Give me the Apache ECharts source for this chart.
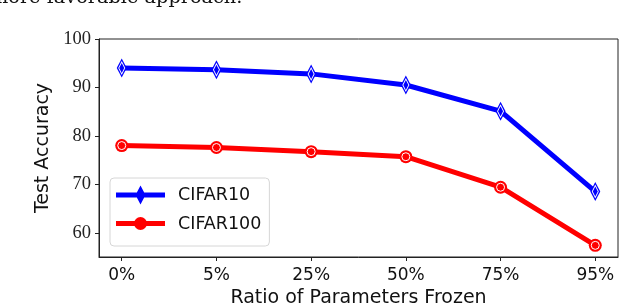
<!DOCTYPE html>
<html>
<head>
<meta charset="utf-8">
<script src="https://cdn.jsdelivr.net/npm/echarts@6/dist/echarts.min.js"></script>
<style>
html,body{margin:0;padding:0;background:#fff;}
#c{width:620px;height:306px;}
</style>
</head>
<body>
<div id="c"></div>
<script>
var categories = ['0%', '5%', '25%', '50%', '75%', '95%'];
var cifar10 = [94.0, 93.65, 92.8, 90.5, 85.1, 68.5];
var cifar100 = [78.0, 77.6, 76.75, 75.7, 69.4, 57.4];
var yTicks = [60, 70, 80, 90, 100];
var xTickPositions = [0, 1, 2, 3, 4, 5];

function pairs(arr) { return arr.map(function (v, i) { return [i, v]; }); }

var chart = echarts.init(document.getElementById('c'), null, {renderer: 'canvas'});
var axisColor = '#222';
var diamondIcon = 'path://M0,7 H49 V12 H0 Z M24.5,0 L29.5,9.5 L24.5,19 L19.5,9.5 Z';
var circleIcon = 'path://M0,6.5 H49 V11.5 H0 Z M31,9 A6.5,6.5 0 1 1 18,9 A6.5,6.5 0 1 1 31,9 Z M0,0 Z M49,19 Z';
chart.setOption({
  animation: false,
  graphic: [{
    type: 'text', left: -10, top: -12,
    style: {text: 'more favorable approach.', font: '19.3px "DejaVu Serif"', fill: '#111'}
  }],
  grid: {left: 99, right: 2, top: 39, bottom: 49, show: true, borderColor: axisColor, borderWidth: 1,
    outerBoundsMode: 'none', containLabel: false},
  legend: {
    data: [{name: 'CIFAR10', icon: diamondIcon}, {name: 'CIFAR100', icon: circleIcon}],
    orient: 'vertical', left: 110, top: 178,
    padding: [7, 8, 12, 6],
    itemWidth: 49, itemHeight: 19, itemGap: 9,
    backgroundColor: '#fff', borderColor: '#d6d6d6', borderWidth: 1, borderRadius: 4,
    textStyle: {fontFamily: 'DejaVu Sans', fontSize: 17.5, color: '#111', lineHeight: 20, padding: [0, 0, 0, 8]}
  },
  xAxis: {
    type: 'value', min: -0.24, max: 5.24,
    splitLine: {show: false},
    axisLine: {show: true, onZero: false, lineStyle: {color: axisColor, width: 1}},
    axisTick: {show: true, customValues: xTickPositions, length: 4, lineStyle: {color: axisColor}},
    axisLabel: {customValues: xTickPositions, margin: 10, fontFamily: 'DejaVu Sans', fontSize: 17, color: '#111',
      formatter: function (v) { return categories[Math.round(v)]; }},
    name: 'Ratio of Parameters Frozen', nameLocation: 'middle', nameGap: 31,
    nameTextStyle: {fontFamily: 'DejaVu Sans', fontSize: 19, color: '#111', verticalAlign: 'top'}
  },
  yAxis: {
    type: 'value', min: 55, max: 100,
    splitLine: {show: false},
    axisLine: {show: true, onZero: false, lineStyle: {color: axisColor, width: 1}},
    axisTick: {show: true, customValues: yTicks, length: 4, lineStyle: {color: axisColor}},
    axisLabel: {customValues: yTicks, margin: 8, fontFamily: 'Liberation Serif', fontSize: 18.5, color: '#222'},
    name: 'Test Accuracy', nameLocation: 'middle', nameGap: 46,
    nameTextStyle: {fontFamily: 'DejaVu Sans', fontSize: 19, color: '#111'}
  },
  series: [
    {name: 'CIFAR10', type: 'line', data: pairs(cifar10), symbol: 'diamond', symbolSize: [10, 19],
      lineStyle: {color: '#0000ff', width: 5}, itemStyle: {color: '#0000ff'}, z: 2},
    {name: 'CIFAR10-inner', type: 'line', data: pairs(cifar10), symbol: 'diamond', symbolSize: [6, 12],
      lineStyle: {width: 0, opacity: 0}, itemStyle: {color: '#0000ff', borderColor: '#fff', borderWidth: 1}, z: 3},
    {name: 'CIFAR100', type: 'line', data: pairs(cifar100), symbol: 'circle', symbolSize: 13,
      lineStyle: {color: '#ff0000', width: 5}, itemStyle: {color: '#ff0000'}, z: 2},
    {name: 'CIFAR100-inner', type: 'line', data: pairs(cifar100), symbol: 'circle', symbolSize: 8,
      lineStyle: {width: 0, opacity: 0}, itemStyle: {color: '#ff0000', borderColor: '#fff', borderWidth: 1}, z: 3}
  ]
});
</script>
</body>
</html>
